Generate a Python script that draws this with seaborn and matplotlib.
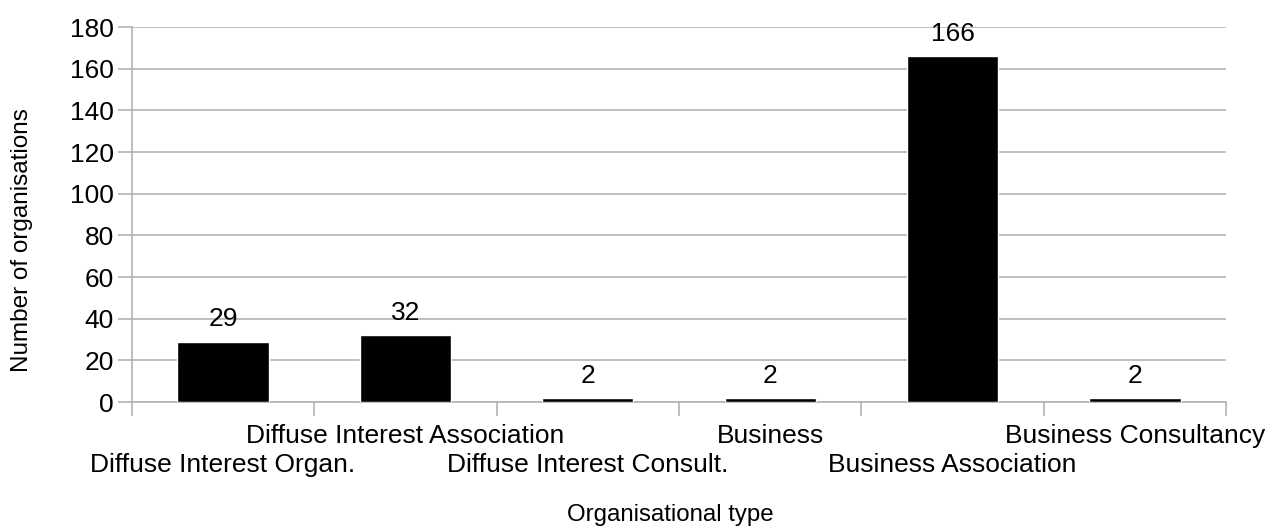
import matplotlib
matplotlib.use("Agg")
import matplotlib.pyplot as plt
import matplotlib.transforms as mtransforms
import seaborn as sns
import pandas as pd

categories = [
    "Diffuse Interest Organ.",
    "Diffuse Interest Association",
    "Diffuse Interest Consult.",
    "Business",
    "Business Association",
    "Business Consultancy",
]
counts = [29, 32, 2, 2, 166, 2]
y_ticks = [0, 20, 40, 60, 80, 100, 120, 140, 160, 180]

sns.set_theme(style="white")
plt.rcParams["font.family"] = ["Liberation Sans", "DejaVu Sans"]
plt.rcParams["text.color"] = "black"

df = pd.DataFrame({"type": categories, "count": counts})

fig = plt.figure(figsize=(12.8, 5.3), dpi=100)
ax = fig.add_axes([0.103, 0.2415, 0.855, 0.7075])

sns.barplot(data=df, x="type", y="count", color="black", width=0.5,
            saturation=1, ax=ax, zorder=3)

n = len(categories)
ax.set_xlim(-0.5, n - 0.5)
ax.set_ylim(0, 180)
ax.set_yticks(y_ticks)
ax.set_yticklabels([str(v) for v in y_ticks], fontsize=19)

grid_col = "#b3b3b3"
ax.yaxis.grid(True, color=grid_col, linewidth=1.2, zorder=0)
ax.xaxis.grid(False)
for side in ["top", "right"]:
    ax.spines[side].set_visible(False)
for side in ["left", "bottom"]:
    ax.spines[side].set_color(grid_col)
    ax.spines[side].set_linewidth(1.2)

# x ticks sit on the category boundaries; names are drawn separately in two rows
ax.set_xticks([i - 0.5 for i in range(n + 1)])
ax.set_xticklabels([])
ax.tick_params(axis="x", which="major", direction="out", length=10,
               width=1.2, color=grid_col, bottom=True)
ax.tick_params(axis="y", which="major", direction="out", length=10,
               width=1.2, color=grid_col, left=True, pad=3,
               labelcolor="black")

trans = mtransforms.blended_transform_factory(ax.transData, ax.transAxes)
for i, name in enumerate(categories):
    y = -0.09 if i % 2 == 1 else -0.168
    ax.text(i, y, name, transform=trans, ha="center", va="center",
            fontsize=19, color="black")

for i, v in enumerate(counts):
    ax.annotate(str(v), (i, v), xytext=(0, 16), textcoords="offset points",
                ha="center", va="center", fontsize=19, color="black")

ax.set_xlabel("")
ax.set_ylabel("")
fig.text(0.5236, 0.028, "Organisational type", ha="center", va="center",
         fontsize=17.3, color="black")
fig.text(0.0172, 0.547, "Number of organisations", ha="center", va="center",
         rotation=90, fontsize=17.5, color="black")

fig.savefig("out.png", dpi=100, facecolor="white")
